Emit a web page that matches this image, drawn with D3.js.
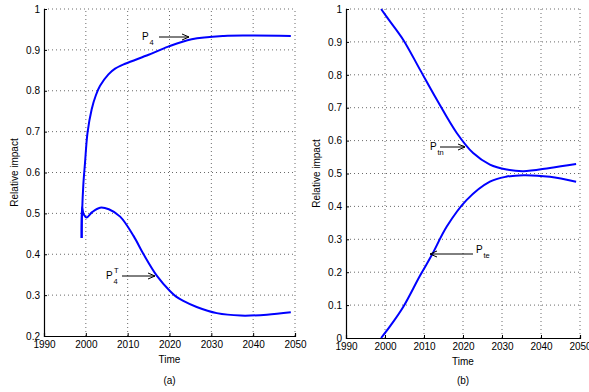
<!DOCTYPE html>
<html>
<head>
<meta charset="utf-8">
<script src="https://cdn.jsdelivr.net/npm/d3@7"></script>
<style>
  body { margin: 0; background: #fff; }
  svg { display: block; font-family: "Liberation Sans", Arial, sans-serif; }
  .grid line { stroke: #444; stroke-dasharray: 1,3; stroke-width: 0.8; }
</style>
</head>
<body>
<svg width="589" height="392"></svg>
<script>
// Panel (a)
const p4Years  = [1999, 1999.1, 1999.4, 1999.8, 2000.4, 2001.4, 2002.4, 2003.4, 2005.4, 2007, 2009.4, 2015, 2019.7, 2025.3, 2033, 2039, 2049];
const p4Values = [0.44, 0.50, 0.57, 0.623, 0.697, 0.755, 0.789, 0.812, 0.840, 0.854, 0.866, 0.888, 0.908, 0.926, 0.934, 0.935, 0.934];
const p4tYears  = [1999, 1999.1, 1999.5, 2000.2, 2001.5, 2003.4, 2005.5, 2008.2, 2011.4, 2013.8, 2017, 2020.1, 2021.5, 2023.3, 2026.5, 2031.3, 2037, 2043.3, 2049];
const p4tValues = [0.44, 0.515, 0.497, 0.49, 0.503, 0.514, 0.510, 0.492, 0.445, 0.40, 0.347, 0.310, 0.297, 0.286, 0.271, 0.256, 0.250, 0.252, 0.258];

// Panel (b)
const ptnYears  = [1999, 2001, 2004.7, 2009, 2013.3, 2018.4, 2022.6, 2026.9, 2031.2, 2035.5, 2042.3, 2049];
const ptnValues = [1.0, 0.967, 0.906, 0.815, 0.724, 0.623, 0.562, 0.527, 0.512, 0.507, 0.517, 0.529];
const pteYears  = [1999, 2001.5, 2004.7, 2009, 2012, 2015.8, 2020.9, 2026.9, 2031, 2035.5, 2042.3, 2049];
const pteValues = [0, 0.039, 0.095, 0.19, 0.252, 0.338, 0.419, 0.475, 0.49, 0.495, 0.490, 0.475];

const xTicks = [1990, 2000, 2010, 2020, 2030, 2040, 2050];
const yTicksA = [0.2, 0.3, 0.4, 0.5, 0.6, 0.7, 0.8, 0.9, 1];
const yTicksB = [0, 0.1, 0.2, 0.3, 0.4, 0.5, 0.6, 0.7, 0.8, 0.9, 1];

const svg = d3.select("svg");

function panel(opts) {
  const x = d3.scaleLinear().domain([1990, 2050]).range([opts.left, opts.right]);
  const y = d3.scaleLinear().domain(opts.yDomain).range([opts.bottom, opts.top]);
  const g = svg.append("g");

  // grid
  const grid = g.append("g").attr("class", "grid");
  grid.selectAll(".gx").data(xTicks.slice(1)).enter().append("line")
    .attr("x1", d => x(d)).attr("x2", d => x(d))
    .attr("y1", opts.bottom).attr("y2", opts.top);
  grid.selectAll(".gy").data(opts.yTicks.slice(1)).enter().append("line")
    .attr("y1", d => y(d)).attr("y2", d => y(d))
    .attr("x1", opts.left).attr("x2", opts.right);

  // axes (ticks point inward)
  const ax = g.append("g").attr("transform", `translate(0,${opts.bottom})`)
    .call(d3.axisBottom(x).tickValues(xTicks).tickSize(-3).tickPadding(5).tickFormat(d3.format("d")));
  const ay = g.append("g").attr("transform", `translate(${opts.left},0)`)
    .call(d3.axisLeft(y).tickValues(opts.yTicks).tickSize(-3).tickPadding(4).tickFormat(d => d === 0 || d === 1 ? d : d3.format(".1f")(d)));
  [ax, ay].forEach(a => {
    a.select(".domain").attr("stroke", "#000").attr("stroke-width", 1.2);
    a.selectAll(".tick line").attr("stroke", "#000");
    a.selectAll("text").attr("fill", "#000").style("font-size", "10px");
  });

  // labels
  const cx = (opts.left + opts.right) / 2;
  g.append("text").attr("x", cx).attr("y", opts.bottom + 27)
    .attr("text-anchor", "middle").style("font-size", "10px").text("Time");
  g.append("text").attr("x", cx).attr("y", 384)
    .attr("text-anchor", "middle").style("font-size", "10px").text(opts.tag);
  g.append("text")
    .attr("transform", `translate(${opts.ylabX},${(opts.top + opts.bottom) / 2}) rotate(-90)`)
    .attr("text-anchor", "middle").style("font-size", "10px").text("Relative impact");

  const line = d3.line().x(d => x(d[0])).y(d => y(d[1])).curve(d3.curveCatmullRom.alpha(0.5));
  opts.series.forEach(s => {
    g.append("path").datum(d3.zip(s.years, s.values))
      .attr("d", line).attr("fill", "none").attr("stroke", "#0000ff").attr("stroke-width", 2);
  });
  return { x, y, g };
}

function arrow(g, x1, y1, x2, y2) {
  g.append("line").attr("x1", x1).attr("y1", y1).attr("x2", x2).attr("y2", y2)
    .attr("stroke", "#000").attr("stroke-width", 1);
  const dir = Math.sign(x2 - x1);
  g.append("path")
    .attr("d", `M${x2 - dir * 7},${y2 - 3} L${x2},${y2} L${x2 - dir * 7},${y2 + 3}`)
    .attr("fill", "none").attr("stroke", "#000").attr("stroke-width", 1);
}

function label(g, x, y, main, sub, sup) {
  g.append("text").attr("x", x).attr("y", y).style("font-size", "10px").text(main);
  g.append("text").attr("x", x + 7.5).attr("y", y + 5).style("font-size", "7.5px").text(sub);
  if (sup) g.append("text").attr("x", x + 8).attr("y", y - 6).style("font-size", "7.5px").text(sup);
}

const a = panel({
  left: 44, right: 295, top: 9, bottom: 336, yDomain: [0.2, 1], yTicks: yTicksA,
  ylabX: 18, tag: "(a)",
  series: [{ years: p4Years, values: p4Values }, { years: p4tYears, values: p4tValues }]
});
label(a.g, 142, 40, "P", "4");
arrow(a.g, 159, 37, 189, 37);
label(a.g, 106, 279, "P", "4", "T");
arrow(a.g, 122, 276, 155, 276);

const b = panel({
  left: 346, right: 580, top: 9, bottom: 338, yDomain: [0, 1], yTicks: yTicksB,
  ylabX: 320, tag: "(b)",
  series: [{ years: ptnYears, values: ptnValues }, { years: pteYears, values: pteValues }]
});
label(b.g, 430, 150, "P", "tn");
arrow(b.g, 440, 147, 465, 147);
label(b.g, 476, 253, "P", "te");
arrow(b.g, 473, 254, 430, 254);
</script>
</body>
</html>
